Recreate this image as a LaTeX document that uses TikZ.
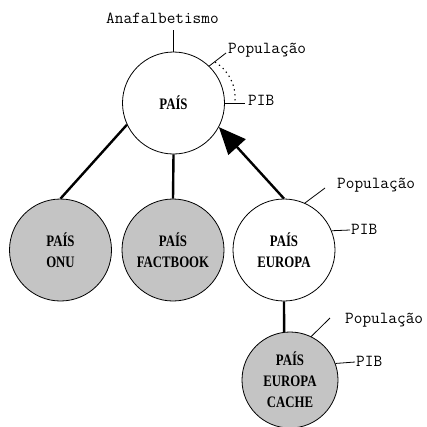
\documentclass[tikz,border=0pt]{standalone}
\usepackage{fontspec}
\newfontfamily\nodefont{Liberation Serif}[FakeStretch=0.8]
\usetikzlibrary{arrows.meta}
\definecolor{shade}{RGB}{196,196,196}
\begin{document}
\begin{tikzpicture}[x=1pt,y=-1pt,
  entity/.style={circle, draw, line width=0.8pt, inner sep=0pt, minimum size=102pt,
    font=\nodefont\bfseries\fontsize{16}{21}\selectfont, align=center},
  cached/.style={entity, fill=shade},
  link/.style={line width=2.4pt},
  attr/.style={line width=0.8pt},
  lbl/.style={font=\ttfamily\fontsize{16.8}{18}\selectfont, inner sep=0pt, anchor=base west},
]
\useasboundingbox[fill=white] (0,0) rectangle (427,426);

% entities
\node[entity] (pais)  at (173.5,103) {PAÍS};
\node[cached] (onu)   at (60.5,250)  {PAÍS\\ONU};
\node[cached] (fact)  at (173,250)   {PAÍS\\FACTBOOK};
\node[entity] (eu)    at (284,250)   {PAÍS\\EUROPA};
\node[cached, minimum size=96pt] (cache) at (290,380) {PAÍS\\EUROPA\\CACHE};

% relations
\draw[link] (pais.205) -- (onu.north);
\draw[link] (pais.south) -- (fact.north);
\draw[link, -{Triangle[length=27pt,width=23pt]}] (eu.north) -- (pais.332);
\draw[link] (eu.south) -- (cache.97);

% attributes of PAÍS
\node[lbl] (ana) at (106,23) {Anafalbetismo};
\coordinate (anaEnd) at (173.5,30);
\draw[attr] (pais.north) -- (anaEnd);

\node[lbl] (popP) at (228,53) {População};
\coordinate (popPEnd) at (226,53);
\draw[attr] (pais.46) -- (popPEnd);

\node[lbl] (pibP) at (248,105) {PIB};
\coordinate (pibPEnd) at (245,103);
\draw[attr] (pais.east) -- (pibPEnd);

\coordinate (arcA) at (215,62);
\coordinate (arcB) at (235,101);
\draw[line width=1.1pt, dash pattern=on 1.3pt off 3.6pt] (arcA) .. controls (229,71) and (236,85) .. (arcB);

% attributes of PAÍS EUROPA
\node[lbl] (popE) at (337,188) {População};
\coordinate (popEEnd) at (325,188);
\draw[attr] (eu.66) -- (popEEnd);

\node[lbl] (pibE) at (351,234) {PIB};
\coordinate (pibEEnd) at (350,230);
\draw[attr] (eu.22) -- (pibEEnd);

% attributes of PAÍS EUROPA CACHE
\node[lbl] (popC) at (345,323) {População};
\coordinate (popCEnd) at (330,318);
\draw[attr] (cache.64) -- (popCEnd);

\node[lbl] (pibC) at (356,366) {PIB};
\coordinate (pibCEnd) at (355,362);
\draw[attr] (cache.20) -- (pibCEnd);
\end{tikzpicture}
\end{document}
